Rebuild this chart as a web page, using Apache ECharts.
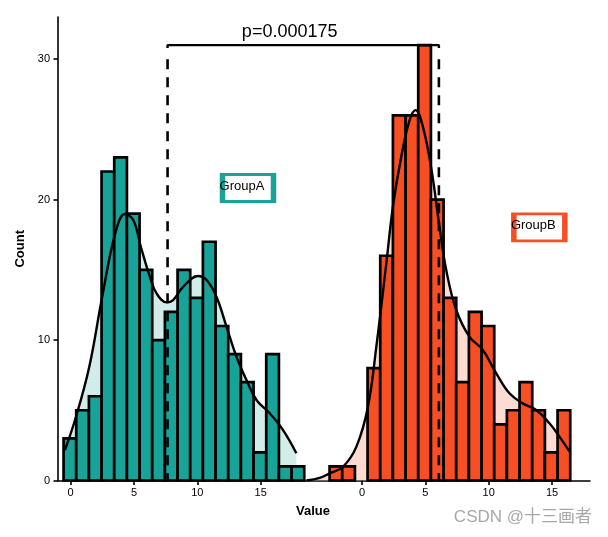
<!DOCTYPE html>
<html>
<head>
<meta charset="utf-8">
<script src="https://cdn.jsdelivr.net/npm/echarts@6/dist/echarts.min.js"></script>
<style>
html,body{margin:0;padding:0;background:#fff;}
#main{width:608px;height:537px;}
</style>
</head>
<body>
<div id="main"></div>
<script>
// ---- data ----
const binWidth = 1;
const binStartA = -0.56;          // group A, own units
const binStartB = -2.56;          // group B, own units
const offsetB = 23;               // B is drawn shifted right on the shared axis
const countsA = [3,5,6,22,23,19,15,10,12,15,13,17,11,9,7,2,9,1,1];
const countsB = [1,1,0,8,16,26,26,31,20,13,7,12,11,4,5,7,5,2,5];

const densityAx = [-0.45,0.42,1.47,2.49,3.52,4.28,4.94,5.54,6.25,6.78,7.57,8.09,8.88,10.06,10.73,11.51,12.30,13.09,13.88,14.67,15.72,16.77,17.82];
const densityAy = [2.17,4.54,8.10,13.08,17.59,18.97,18.54,16.64,14.51,13.32,12.68,12.85,13.79,14.56,14.27,13.08,10.95,8.81,7.15,5.73,4.78,3.59,1.94];
const densityBx = [-4.39,-3.34,-2.55,-1.50,-0.44,0.47,1.13,1.92,2.44,3.10,3.76,4.23,4.81,5.49,6.12,6.65,7.44,8.49,9.54,10.60,11.64,12.69,13.75,14.80,15.59,16.38];
const densityBy = [0.0,0.18,0.51,0.98,2.41,5.25,9.52,15.46,19.49,23.05,25.66,26.37,25.18,22.10,18.06,14.98,12.14,10.23,9.29,7.63,6.21,5.49,5.02,4.07,3.12,2.05];

const meanA = 7.65;
const meanB = 6.07;
const bracketY = 31;
const pLabel = 'p=0.000175';
const groupNames = ['GroupA', 'GroupB'];
const groupLabelX = [14, 14];
const groupLabelY = [20.83, 18.02];
const xTickValues = [0, 5, 10, 15];
const xTickLabels = ['0', '5', '10', '15'];
const yTickValues = [0, 10, 20, 30];

// ---- styling ----
const colA = '#17A398', colB = '#F84E24';
const fillA = '#D2ECEA', fillB = '#FCDCD2';
const FONT = '"Liberation Sans", Arial, sans-serif';

// ---- build series data ----
function bins(counts, start, off) {
  return counts.map((c, i) => [start + i * binWidth + off, start + (i + 1) * binWidth + off, c]);
}
const binsA = bins(countsA, binStartA, 0);
const binsB = bins(countsB, binStartB, offsetB);
const curveA = densityAx.map((x, i) => [x, densityAy[i]]);
const curveB = densityBx.map((x, i) => [x + offsetB, densityBy[i]]);

const tickPos = xTickValues.concat(xTickValues.map(v => v + offsetB));
const tickText = xTickLabels.concat(xTickLabels);

function histSeries(data, color) {
  return {
    type: 'custom', z: 2, silent: true,
    encode: { x: [0, 1], y: 2 },
    data: data,
    renderItem: function (params, api) {
      const c = api.value(2);
      if (!c) return;
      const p0 = api.coord([api.value(0), c]);
      const p1 = api.coord([api.value(1), 0]);
      return {
        type: 'rect',
        shape: { x: p0[0], y: p0[1], width: p1[0] - p0[0], height: p1[1] - p0[1] },
        style: { fill: color, stroke: '#000', lineWidth: 2.7 }
      };
    }
  };
}
function areaSeries(data, fill) {
  return { type: 'line', z: 1, data: data, smooth: 0.4, symbol: 'none', silent: true,
    lineStyle: { width: 0 }, areaStyle: { color: fill, opacity: 1 } };
}
function curveSeries(data) {
  return { type: 'line', z: 3, data: data, smooth: 0.4, symbol: 'none', silent: true,
    lineStyle: { color: '#000', width: 2.4 } };
}
function dashSeries(x) {
  return { type: 'line', z: 4, data: [[x, 30.0], [x, 0]], symbol: 'none', silent: true,
    lineStyle: { color: '#000', width: 2.6, type: [10, 8] } };
}

const chart = echarts.init(document.getElementById('main'), null, { renderer: 'canvas' });
chart.setOption({
  animation: false,
  backgroundColor: '#fff',
  grid: { left: 58, right: 18, top: 17, bottom: 56.5 },
  xAxis: {
    type: 'value', min: -1, max: 41,
    splitLine: { show: false },
    axisLine: { onZero: false, lineStyle: { color: '#000', width: 1.6 } },
    axisTick: { customValues: tickPos, length: 4.5, lineStyle: { color: '#000', width: 1.6 } },
    axisLabel: {
      customValues: tickPos, margin: 7, color: '#000', fontSize: 11, fontFamily: FONT,
      formatter: function (v) {
        const i = tickPos.findIndex(t => Math.abs(t - v) < 1e-6);
        return i >= 0 ? tickText[i] : '';
      }
    },
    name: 'Value', nameLocation: 'middle', nameGap: 24,
    nameTextStyle: { fontWeight: 'bold', fontSize: 13, color: '#000', fontFamily: FONT, padding: [0, 22, 0, 0] }
  },
  yAxis: {
    type: 'value', min: 0, max: 33,
    splitLine: { show: false },
    axisLine: { show: true, onZero: false, lineStyle: { color: '#000', width: 1.6 } },
    axisTick: { show: true, customValues: yTickValues, length: 4.5, lineStyle: { color: '#000', width: 1.6 } },
    axisLabel: { customValues: yTickValues, margin: 8, color: '#000', fontSize: 11, fontFamily: FONT },
    name: 'Count', nameLocation: 'middle', nameGap: 25, nameRotate: 90,
    nameTextStyle: { fontWeight: 'bold', fontSize: 13, color: '#000', fontFamily: FONT }
  },
  series: [
    areaSeries(curveA, fillA),
    areaSeries(curveB, fillB),
    histSeries(binsA, colA),
    histSeries(binsB, colB),
    curveSeries(curveA),
    curveSeries(curveB),
    dashSeries(meanA),
    dashSeries(meanB + offsetB),
    { type: 'line', z: 4, symbol: 'none', silent: true,
      data: [[meanA, bracketY - 0.2], [meanA, bracketY], [meanB + offsetB, bracketY], [meanB + offsetB, bracketY - 0.2]],
      lineStyle: { color: '#000', width: 2.4 } },
    { type: 'scatter', z: 5, silent: true, symbolSize: 0, itemStyle: { opacity: 1 },
      data: [[17.29, 31.95]],
      label: { show: true, position: 'inside', formatter: pLabel, color: '#000', fontSize: 18, fontFamily: FONT } },
    { type: 'scatter', z: 6, silent: true, symbol: 'rect', symbolSize: [51, 27],
      data: groupNames.map((n, i) => ({
        value: [groupLabelX[i] + (i ? offsetB : 0), groupLabelY[i]], name: n,
        itemStyle: { color: '#fff', borderColor: i ? colB : colA, borderWidth: 4, opacity: 1 }
      })),
      label: { show: true, position: 'inside', formatter: '{b}', offset: [-6, -1.5], color: '#000', fontSize: 13, fontFamily: FONT } }
  ],
  graphic: [{
    type: 'text', right: 16, top: 509, silent: true,
    style: { text: 'CSDN @十三画者', fill: '#a8a8a8', font: '17px "Liberation Sans", "Noto Sans CJK SC", sans-serif' }
  }]
});
</script>
</body>
</html>
